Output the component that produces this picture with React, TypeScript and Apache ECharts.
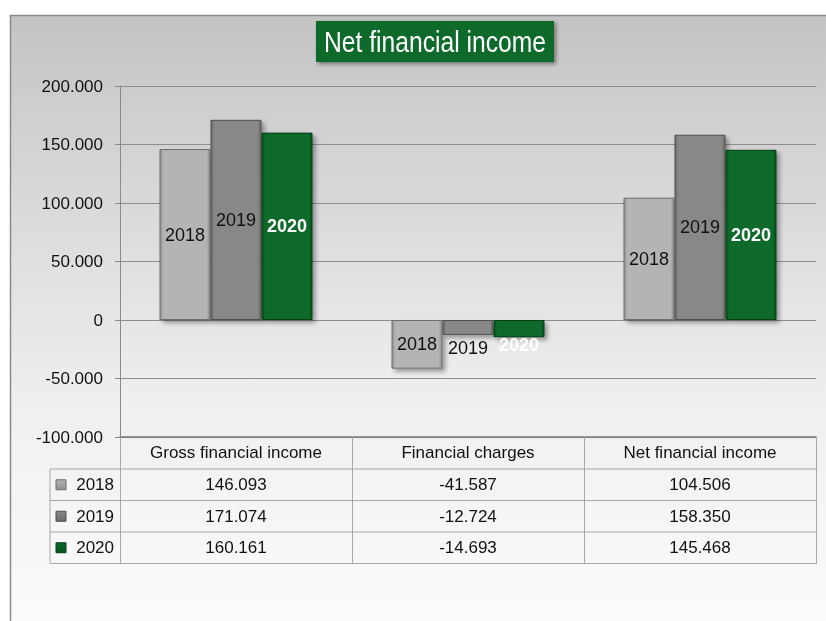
import React, { useEffect, useRef } from "react";
import * as echarts from "echarts";

const categories = ["Gross financial income", "Financial charges", "Net financial income"];
const years = ["2018", "2019", "2020"];
const values2018 = [146093, -41587, 104506];
const values2019 = [171074, -12724, 158350];
const values2020 = [160161, -14693, 145468];
const titleText = "Net financial income";
const yMin = -100000;
const yMax = 200000;
const yStep = 50000;

const seriesValues = [values2018, values2019, values2020];

const FONT = "'Liberation Sans', Arial, sans-serif";

const fmt = (v: number) => {
  const s = Math.abs(v).toString().replace(/\B(?=(\d{3})+(?!\d))/g, ".");
  return (v < 0 ? "-" : "") + s;
};

const palette = [
  { base: "#b4b4b4", edge: "#8f8f8f", border: "#6e6e6e", label: "#111", bold: false },
  { base: "#888888", edge: "#6a6a6a", border: "#505050", label: "#111", bold: false },
  { base: "#0b6a2c", edge: "#05501f", border: "#043f18", label: "#ffffff", bold: true },
];

const barFill = (p: typeof palette[number]) =>
  new echarts.graphic.LinearGradient(0, 0, 1, 0, [
    { offset: 0, color: p.edge },
    { offset: 0.07, color: p.base },
    { offset: 0.93, color: p.base },
    { offset: 1, color: p.edge },
  ]);

// label offsets for the thin negative bars (labels sit below them)
const labelOffsets: Record<string, number[]> = {
  "1-1": [0, 21],
  "2-1": [0, 16],
};

export default function App() {
  const ref = useRef<HTMLDivElement>(null);

  useEffect(() => {
    if (!ref.current) return;
    const chart = echarts.init(ref.current, undefined, { renderer: "svg" });

    const series = years.map((y, si) => {
      const p = palette[si];
      return {
        name: y,
        type: "bar",
        barWidth: 51,
        barGap: "0%",
        data: seriesValues[si].map((v, ci) => {
          const off = labelOffsets[`${si}-${ci}`];
          return off ? { value: v, label: { offset: off } } : { value: v };
        }),
        itemStyle: {
          color: barFill(p),
          borderColor: p.border,
          borderWidth: 1,
          shadowBlur: 4,
          shadowOffsetX: 3,
          shadowOffsetY: 3,
          shadowColor: "rgba(0,0,0,0.35)",
        },
        label: {
          show: true,
          position: "inside",
          formatter: () => y,
          color: p.label,
          fontSize: 18,
          fontWeight: p.bold ? "bold" : "normal",
          fontFamily: FONT,
        },
        z: 3,
      };
    });

    chart.setOption({
      animation: false,
      grid: { left: 120, right: 10, top: 86, bottom: 184, containLabel: false },
      xAxis: {
        type: "category",
        data: categories,
        axisLine: { show: true, onZero: false, lineStyle: { color: "#7a7a7a", width: 1.5 } },
        axisTick: { show: true, length: 127, lineStyle: { color: "#a8a8a8" } },
        axisLabel: { color: "#111", fontSize: 17, fontFamily: FONT, margin: 7, interval: 0 },
      },
      yAxis: {
        type: "value",
        min: yMin,
        max: yMax,
        interval: yStep,
        axisLine: { show: true, lineStyle: { color: "#8a8a8a" } },
        axisTick: { show: true, length: 5, lineStyle: { color: "#8a8a8a" } },
        axisLabel: { color: "#111", fontSize: 17, fontFamily: FONT, margin: 17, formatter: (v: number) => fmt(v) },
        splitLine: { show: true, lineStyle: { color: "#8e8e8e", width: 1 } },
      },
      series,
    });

    const rowTop = 469;
    const rowH = 31.5;
    const tableLeft = 50;
    const tableRight = 816;
    const colX = categories.map((_, i) => chart.convertToPixel({ xAxisIndex: 0 }, i) as number);

    const graphic: any[] = [
      {
        type: "rect",
        z: -100,
        silent: true,
        shape: { x: 10.5, y: 15.5, width: 840, height: 640 },
        style: {
          fill: new echarts.graphic.LinearGradient(0, 0, 0, 1, [
            { offset: 0, color: "#c4c4c4" },
            { offset: 0.6, color: "#efefef" },
            { offset: 1, color: "#fdfdfd" },
          ]),
          stroke: "#8a8a8a",
          lineWidth: 1.5,
        },
      },
      {
        type: "rect",
        silent: true,
        z: 10,
        shape: { x: 316, y: 21, width: 238, height: 41 },
        style: {
          fill: "#0b6a2b",
          shadowBlur: 4,
          shadowColor: "rgba(0,0,0,0.45)",
          shadowOffsetX: 2,
          shadowOffsetY: 2,
        },
      },
      {
        type: "text",
        silent: true,
        z: 11,
        x: 435,
        y: 42,
        scaleX: 0.85,
        style: {
          text: titleText,
          fill: "#ffffff",
          fontSize: 29,
          fontFamily: FONT,
          align: "center",
          verticalAlign: "middle",
        },
      },
      {
        type: "line",
        silent: true,
        shape: { x1: tableLeft, y1: rowTop, x2: tableLeft, y2: rowTop + rowH * 3 },
        style: { stroke: "#a8a8a8", lineWidth: 1 },
      },
    ];
    for (let r = 0; r <= 3; r++) {
      graphic.push({
        type: "line",
        silent: true,
        shape: { x1: tableLeft, y1: rowTop + r * rowH, x2: tableRight, y2: rowTop + r * rowH },
        style: { stroke: "#a8a8a8", lineWidth: 1 },
      });
    }
    years.forEach((y, si) => {
      const cy = rowTop + si * rowH + rowH / 2;
      const p = palette[si];
      graphic.push({
        type: "rect",
        silent: true,
        shape: { x: 56, y: cy - 5, width: 10, height: 10 },
        style: {
          fill: new echarts.graphic.LinearGradient(0, 0, 0, 1, [
            { offset: 0, color: p.base },
            { offset: 1, color: p.edge },
          ]),
          stroke: p.border,
          lineWidth: 1,
        },
      });
      graphic.push({
        type: "text",
        silent: true,
        x: 114,
        y: cy,
        style: { text: y, fill: "#111", fontSize: 17, fontFamily: FONT, align: "right", verticalAlign: "middle" },
      });
      seriesValues[si].forEach((v, ci) => {
        graphic.push({
          type: "text",
          silent: true,
          x: colX[ci],
          y: cy,
          style: { text: fmt(v), fill: "#111", fontSize: 17, fontFamily: FONT, align: "center", verticalAlign: "middle" },
        });
      });
    });

    chart.setOption({ graphic });

    return () => chart.dispose();
  }, []);

  return <div ref={ref} style={{ position: "fixed", left: 0, top: 0, width: 826, height: 621 }} />;
}
